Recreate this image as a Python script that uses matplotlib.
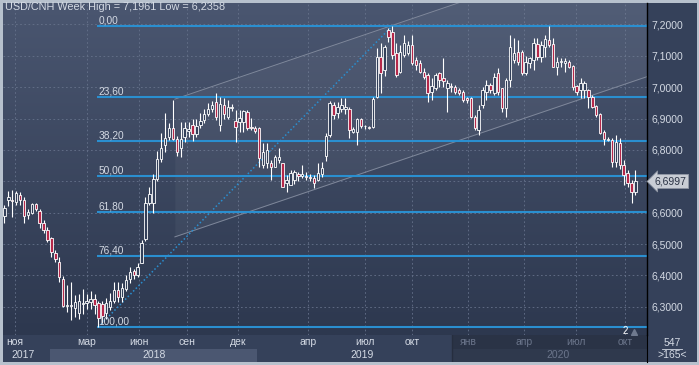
import matplotlib
matplotlib.use("Agg")
import matplotlib.pyplot as plt
import matplotlib.transforms as mtransforms
import numpy as np

# weekly USD/CNH candles
opens = [6.590, 6.641, 6.640, 6.635, 6.656, 6.641, 6.592, 6.598, 6.627, 6.606,
         6.567, 6.545, 6.519, 6.473, 6.444, 6.389, 6.302, 6.303, 6.295, 6.279,
         6.308, 6.312, 6.314, 6.324, 6.312, 6.309, 6.281, 6.299, 6.320, 6.354,
         6.330, 6.356, 6.388, 6.413, 6.400, 6.441, 6.515, 6.632, 6.630, 6.707,
         6.770, 6.816, 6.842, 6.869, 6.834, 6.805, 6.842, 6.860, 6.880, 6.852,
         6.880, 6.896, 6.915, 6.930, 6.954, 6.880, 6.943, 6.906, 6.933, 6.892,
         6.890, 6.890, 6.922, 6.874, 6.871, 6.869, 6.752, 6.760, 6.758, 6.747,
         6.768, 6.758, 6.694, 6.688, 6.704, 6.722, 6.718, 6.717, 6.715, 6.710,
         6.704, 6.724, 6.780, 6.848, 6.943, 6.917, 6.930, 6.930, 6.930, 6.858,
         6.858, 6.898, 6.877, 6.873, 6.874, 6.970, 7.097, 7.055, 7.182, 7.177,
         7.108, 7.050, 7.103, 7.108, 7.135, 7.087, 7.076, 7.050, 7.039, 6.986,
         6.997, 7.044, 7.029, 6.997, 7.004, 7.002, 6.991, 6.986, 6.965, 6.965,
         6.906, 6.864, 6.943, 6.986, 7.007, 6.981, 7.044, 6.997, 6.933, 7.023,
         7.087, 7.113, 7.113, 7.044, 7.076, 7.087, 7.138, 7.097, 7.129, 7.151,
         7.138, 7.065, 7.079, 7.078, 7.081, 7.068, 7.004, 6.991, 6.991, 6.991,
         6.970, 6.940, 6.915, 6.858, 6.832, 6.832, 6.763, 6.823, 6.752, 6.726,
         6.694, 6.667]
highs = [6.625, 6.669, 6.672, 6.669, 6.667, 6.649, 6.612, 6.630, 6.632, 6.612,
         6.578, 6.556, 6.524, 6.481, 6.460, 6.397, 6.370, 6.380, 6.337, 6.340,
         6.358, 6.340, 6.350, 6.340, 6.318, 6.318, 6.327, 6.343, 6.380, 6.380,
         6.375, 6.402, 6.426, 6.420, 6.441, 6.513, 6.651, 6.683, 6.725, 6.798,
         6.853, 6.917, 6.885, 6.959, 6.845, 6.890, 6.890, 6.890, 6.900, 6.900,
         6.917, 6.930, 6.950, 6.955, 6.981, 6.970, 6.965, 6.960, 6.945, 6.927,
         6.927, 6.927, 6.928, 6.901, 6.878, 6.874, 6.821, 6.821, 6.768, 6.785,
         6.805, 6.760, 6.720, 6.736, 6.736, 6.730, 6.752, 6.730, 6.725, 6.720,
         6.759, 6.763, 6.853, 6.956, 6.954, 6.954, 6.965, 6.965, 6.938, 6.874,
         6.901, 6.901, 6.880, 6.878, 6.970, 7.124, 7.140, 7.134, 7.190, 7.1961,
         7.140, 7.135, 7.167, 7.146, 7.167, 7.097, 7.087, 7.060, 7.044, 7.029,
         7.044, 7.050, 7.092, 7.023, 7.013, 7.008, 6.997, 6.991, 6.970, 6.968,
         6.911, 6.943, 7.002, 7.023, 7.013, 7.044, 7.060, 6.999, 7.029, 7.167,
         7.156, 7.151, 7.119, 7.100, 7.097, 7.156, 7.156, 7.146, 7.167, 7.1961,
         7.156, 7.097, 7.092, 7.092, 7.087, 7.071, 7.008, 7.029, 7.020, 6.995,
         6.975, 6.943, 6.917, 6.864, 6.840, 6.837, 6.848, 6.837, 6.768, 6.736,
         6.704, 6.736]
lows = [6.567, 6.621, 6.587, 6.626, 6.624, 6.568, 6.581, 6.596, 6.604, 6.550,
        6.535, 6.508, 6.460, 6.443, 6.378, 6.300, 6.284, 6.258, 6.268, 6.260,
        6.276, 6.292, 6.292, 6.276, 6.236, 6.250, 6.260, 6.290, 6.311, 6.316,
        6.316, 6.349, 6.375, 6.389, 6.396, 6.439, 6.511, 6.625, 6.600, 6.702,
        6.763, 6.795, 6.832, 6.831, 6.780, 6.779, 6.827, 6.842, 6.829, 6.842,
        6.869, 6.885, 6.908, 6.920, 6.895, 6.862, 6.900, 6.900, 6.925, 6.826,
        6.858, 6.858, 6.865, 6.864, 6.855, 6.747, 6.742, 6.742, 6.704, 6.745,
        6.758, 6.683, 6.667, 6.688, 6.690, 6.700, 6.710, 6.705, 6.700, 6.678,
        6.700, 6.715, 6.765, 6.840, 6.900, 6.903, 6.922, 6.915, 6.837, 6.853,
        6.816, 6.870, 6.868, 6.866, 6.869, 6.965, 6.981, 7.036, 7.145, 7.090,
        7.032, 7.044, 7.097, 7.103, 7.071, 7.055, 7.044, 7.025, 6.954, 6.959,
        6.991, 7.002, 7.002, 6.922, 6.986, 6.980, 6.975, 6.954, 6.950, 6.901,
        6.864, 6.848, 6.933, 6.959, 6.981, 6.975, 6.975, 6.922, 6.906, 7.002,
        7.076, 7.071, 7.039, 7.040, 7.060, 7.055, 7.087, 7.081, 7.097, 7.129,
        7.065, 7.039, 7.065, 7.050, 7.060, 6.991, 6.975, 6.965, 6.965, 6.933,
        6.933, 6.906, 6.850, 6.816, 6.828, 6.747, 6.747, 6.738, 6.688, 6.683,
        6.630, 6.657]
closes = [6.615, 6.649, 6.636, 6.664, 6.641, 6.590, 6.602, 6.627, 6.612, 6.568,
          6.545, 6.513, 6.476, 6.451, 6.394, 6.303, 6.306, 6.307, 6.316, 6.320,
          6.312, 6.318, 6.324, 6.306, 6.264, 6.270, 6.311, 6.320, 6.354, 6.330,
          6.360, 6.386, 6.412, 6.400, 6.426, 6.504, 6.632, 6.661, 6.709, 6.770,
          6.805, 6.839, 6.869, 6.834, 6.795, 6.835, 6.869, 6.866, 6.851, 6.875,
          6.893, 6.915, 6.930, 6.942, 6.906, 6.946, 6.914, 6.938, 6.938, 6.874,
          6.901, 6.924, 6.869, 6.869, 6.860, 6.773, 6.795, 6.800, 6.747, 6.779,
          6.779, 6.683, 6.704, 6.726, 6.731, 6.718, 6.722, 6.713, 6.710, 6.694,
          6.726, 6.742, 6.845, 6.949, 6.911, 6.938, 6.943, 6.938, 6.864, 6.866,
          6.898, 6.876, 6.875, 6.871, 6.962, 7.095, 7.044, 7.127, 7.159, 7.103,
          7.039, 7.113, 7.140, 7.135, 7.076, 7.071, 7.050, 7.034, 6.981, 7.004,
          7.039, 7.023, 7.021, 7.013, 7.000, 6.986, 6.983, 6.959, 6.959, 6.906,
          6.869, 6.927, 6.991, 7.007, 6.991, 7.034, 6.986, 6.933, 7.023, 7.129,
          7.108, 7.081, 7.044, 7.080, 7.092, 7.140, 7.097, 7.135, 7.153, 7.135,
          7.065, 7.081, 7.083, 7.084, 7.065, 7.002, 6.986, 7.013, 7.015, 6.970,
          6.938, 6.911, 6.853, 6.834, 6.836, 6.763, 6.827, 6.752, 6.720, 6.694,
          6.667, 6.6997]

week_high = 7.1961
week_low = 6.2358
high_idx = 99
low_idx = 24
fib_pcts = [0.0, 23.6, 38.2, 50.0, 61.8, 76.4, 100.0]

# regression channel drawn by the terminal: start index, upper/lower price, slope per week
channel_start = 43.5
channel_upper = 6.962
channel_lower = 6.523
channel_slope = 0.00424

month_labels = ["ноя", "мар", "июн", "сен", "дек", "апр", "июл", "окт", "янв", "апр", "июл", "окт"]
month_pos = [2.7, 21.1, 34.4, 46.6, 59.6, 77.5, 92.0, 104.0, 118.3, 132.6, 145.8, 158.3]
year_labels = ["2017", "2018", "2019", "2020"]
year_pos = [4.8, 38.2, 91.2, 141.2]

price_ticks = [6.3, 6.4, 6.5, 6.6, 6.7, 6.8, 6.9, 7.0, 7.1, 7.2]
last_price = closes[-1]

plt.rcParams["font.family"] = ["Liberation Sans", "DejaVu Sans"]

BG_TOP = "#4a5670"
BG_BOT = "#2d384f"
TXT = "#d4dae4"
FIB = "#2a8fd0"
BEAR = "#b5284a"

W, H = 699, 365
fig = plt.figure(figsize=(W / 100, H / 100), dpi=100)
fig.patch.set_facecolor("#b7c1cd")

XMIN, XMAX = -0.35, 163.95
YMIN, YMAX = 6.2102, 7.2685

# right price panel background
axr = fig.add_axes([647 / W, 30 / H, 50 / W, 332 / H])
axr.set_facecolor("#35415a")
axr.set_xticks([]); axr.set_yticks([])
for s in axr.spines.values():
    s.set_visible(False)

ax = fig.add_axes([3 / W, 30 / H, 644 / W, 332 / H])
ax.set_zorder(2)
ax.set_xlim(XMIN, XMAX)
ax.set_ylim(YMIN, YMAX)

# background gradient
grad = np.linspace(0, 1, 256).reshape(-1, 1)
cmap = matplotlib.colors.LinearSegmentedColormap.from_list("bg", [BG_BOT, BG_TOP])
ax.imshow(grad, extent=[XMIN, XMAX, YMIN, YMAX], origin="lower", aspect="auto",
          cmap=cmap, zorder=0)

# grid
for p in price_ticks:
    ax.axhline(p, color="#66728b", lw=0.6, ls=(0, (2, 3)), zorder=1)
for m in month_pos:
    ax.axvline(m, color="#66728b", lw=0.6, ls=(0, (2, 3)), zorder=1)

# channel
xs = np.array([channel_start, XMAX])
up = channel_upper + channel_slope * (xs - channel_start)
lo = channel_lower + channel_slope * (xs - channel_start)
ax.fill_between(xs, lo, up, color="white", alpha=0.045, lw=0, zorder=1)
ax.plot(xs, up, color="#7f889b", lw=0.7, zorder=1.5)
ax.plot(xs, lo, color="#7f889b", lw=0.7, zorder=1.5)

# fibonacci levels
rng = week_high - week_low
fib_x0 = low_idx - 0.4
for pct in fib_pcts:
    lvl = week_high - rng * pct / 100
    ax.hlines(lvl, fib_x0, XMAX, color=FIB, lw=1.5, zorder=2)
    ax.annotate(f"{pct:.2f}".replace(".", ","), (fib_x0, lvl), xytext=(1, 0.3),
                textcoords="offset points", ha="left", va="bottom",
                fontsize=7.3, color=TXT, zorder=5)
ax.plot([low_idx, high_idx], [week_low, week_high], color=FIB, lw=1.1,
        ls=(0, (1, 1.5)), zorder=2)

# candles
idx = np.arange(len(closes))
o = np.array(opens); c = np.array(closes)
ax.vlines(idx, lows, highs, color="white", lw=0.8, zorder=3)
bull = c >= o
body_lo = np.minimum(o, c)
body_h = np.maximum(np.abs(c - o), 0.002)
ax.bar(idx[bull], body_h[bull], bottom=body_lo[bull], width=0.62,
       color="#33405a", edgecolor="white", lw=0.6, zorder=4)
ax.bar(idx[~bull], body_h[~bull], bottom=body_lo[~bull], width=0.62,
       color=BEAR, edgecolor="white", lw=0.6, zorder=4)

# axes styling; the 6,7000 label sits under the last-price tag
ax.set_xticks([])
ax.yaxis.tick_right()
ax.set_yticks(price_ticks)
ax.set_yticklabels(["" if p == 6.7 else f"{p:.4f}".replace(".", ",") for p in price_ticks])
ax.tick_params(axis="y", length=0, pad=3, labelsize=7.5, labelcolor=TXT)
for name, s in ax.spines.items():
    s.set_visible(name == "right")
ax.spines["right"].set_color("black")
ax.spines["right"].set_linewidth(1)

fig.text(5 / W, 1 - 2 / H, "USD/CNH Week High = 7,1961 Low = 6,2358",
         ha="left", va="top", fontsize=7.8, color=TXT, zorder=6)

# last price tag
trans = mtransforms.blended_transform_factory(ax.transAxes, ax.transData)
ax.text(1.012, last_price, f"{last_price:.4f}".replace(".", ","), transform=trans,
        ha="left", va="center", fontsize=7.5, color="#2a3244", zorder=7,
        bbox=dict(boxstyle="larrow,pad=0.2", fc="#c9cdd5", ec="#8d94a2", lw=0.5),
        clip_on=False)

# event marker near the bottom
ax.text(158.3, 6.222, "2", ha="center", va="center", fontsize=7, color="white", zorder=6)
ax.plot([160.6], [6.219], marker="^", color="#6f7a8f", ms=4, zorder=6)

# time strip
axt = fig.add_axes([3 / W, 3 / H, 644 / W, 27 / H])
axt.set_xlim(XMIN, XMAX)
axt.set_ylim(0, 2)
axt.set_facecolor("#35415a")
axt.axvspan(114.2, XMAX, color="#2a3346", lw=0)
axt.fill_between([11.7, 64.5], 0, 0.95, color="#4b5771", lw=0)
axt.fill_between([114.2, XMAX], 0, 0.95, color="#2f394d", lw=0)
axt.axvline(114.2, color="#262e3f", lw=1)
for lbl, pos in zip(month_labels, month_pos):
    dim = pos > 114.2
    axt.text(pos, 1.45, lbl, ha="center", va="center", fontsize=7.5,
             color="#6b758b" if dim else TXT)
for lbl, pos in zip(year_labels, year_pos):
    dim = pos > 114.2
    axt.text(pos, 0.5, lbl, ha="center", va="center", fontsize=7.5,
             color="#6b758b" if dim else TXT)
axt.set_xticks([]); axt.set_yticks([])
for s in axt.spines.values():
    s.set_visible(False)

# bottom-right counter
axc = fig.add_axes([647 / W, 3 / H, 50 / W, 27 / H])
axc.set_facecolor("#35415a")
axc.set_xlim(0, 1); axc.set_ylim(0, 1)
axc.text(0.5, 0.72, "547", ha="center", va="center", fontsize=7.5, color=TXT)
axc.plot([0.3, 0.7], [0.5, 0.5], color=TXT, lw=0.6)
axc.text(0.5, 0.26, ">165<", ha="center", va="center", fontsize=7.5, color=TXT)
axc.set_xticks([]); axc.set_yticks([])
for name, s in axc.spines.items():
    s.set_visible(name == "left")
axc.spines["left"].set_color("black")

fig.savefig("out.png", dpi=100, facecolor=fig.get_facecolor())
